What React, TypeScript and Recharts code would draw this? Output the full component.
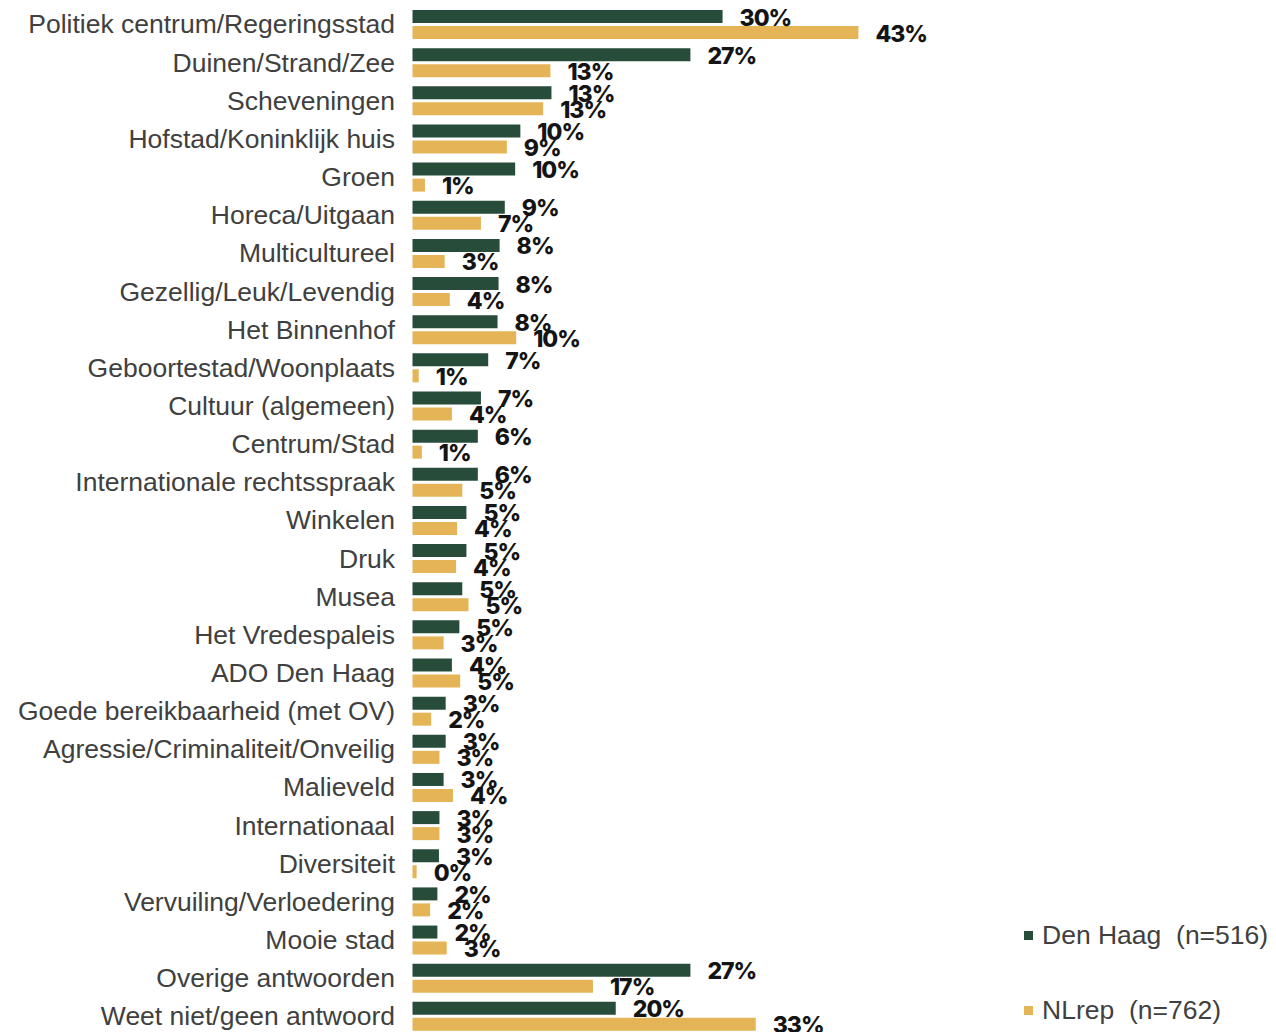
import { BarChart, Bar, XAxis, YAxis, Legend, LabelList } from 'recharts'

// categories, top to bottom
const categories = [
  'Politiek centrum/Regeringsstad',
  'Duinen/Strand/Zee',
  'Scheveningen',
  'Hofstad/Koninklijk huis',
  'Groen',
  'Horeca/Uitgaan',
  'Multicultureel',
  'Gezellig/Leuk/Levendig',
  'Het Binnenhof',
  'Geboortestad/Woonplaats',
  'Cultuur (algemeen)',
  'Centrum/Stad',
  'Internationale rechtsspraak',
  'Winkelen',
  'Druk',
  'Musea',
  'Het Vredespaleis',
  'ADO Den Haag',
  'Goede bereikbaarheid (met OV)',
  'Agressie/Criminaliteit/Onveilig',
  'Malieveld',
  'Internationaal',
  'Diversiteit',
  'Vervuiling/Verloedering',
  'Mooie stad',
  'Overige antwoorden',
  'Weet niet/geen antwoord',
]

// percentages (bar lengths, labels are rounded)
const denHaag = [
  29.9, 26.8, 13.4, 10.4, 9.9, 8.9, 8.4, 8.3, 8.2, 7.3, 6.6, 6.3, 6.3, 5.2,
  5.2, 4.8, 4.52, 3.8, 3.2, 3.2, 3.0, 2.6, 2.55, 2.4, 2.4, 26.8, 19.6,
]
const nlRep = [
  43.0, 13.3, 12.6, 9.1, 1.2, 6.6, 3.1, 3.6, 10.0, 0.6, 3.8, 0.9, 4.8, 4.3,
  4.2, 5.4, 3.0, 4.6, 1.8, 2.6, 3.9, 2.6, 0.4, 1.7, 3.3, 17.4, 33.1,
]

const seriesNames = ['Den Haag  (n=516)', 'NLrep  (n=762)']

const GREEN = '#274d3a'
const GOLD = '#e5b456'
const TEXT = '#404040'

const data = categories.map((name, i) => ({
  name,
  denHaag: denHaag[i],
  nlRep: nlRep[i],
}))

function ValueLabel(props: any) {
  const vb = props.viewBox ?? props
  const x = Number(props.x ?? vb.x)
  const y = Number(props.y ?? vb.y)
  const w = Number(props.width ?? vb.width)
  const h = Number(props.height ?? vb.height)
  return (
    <text
      x={x + w + 17}
      y={y + h / 2 + 9}
      fontFamily="Inter, sans-serif"
      fontWeight={800}
      fontSize={23}
      letterSpacing={-1}
      fill="#141414"
    >
      {Math.round(props.value)}%
    </text>
  )
}

function LegendBox(props: any) {
  const items = props.payload ?? []
  return (
    <div style={{ fontFamily: '"Liberation Sans", Arial, sans-serif', fontSize: 26.5, color: TEXT }}>
      {items.map((it: any, i: number) => (
        <div
          key={i}
          style={{ position: 'relative', height: 26, lineHeight: '26px', marginBottom: i === 0 ? 49 : 0, whiteSpace: 'pre' }}
        >
          <span
            style={{ position: 'absolute', left: 0, top: 9, width: 9, height: 9, background: it.color }}
          />
          <span style={{ position: 'absolute', left: 18, top: 0 }}>{it.value}</span>
        </div>
      ))}
    </div>
  )
}

export default function App() {
  return (
    <div style={{ position: 'fixed', top: 0, left: 0, width: 1276, height: 1032, overflow: 'hidden', background: '#fff' }}>
      <BarChart
        width={1276}
        height={1036}
        data={data}
        layout="vertical"
        margin={{ top: 5, right: 345, bottom: 1, left: 0 }}
        barSize={13}
        barGap={3}
      >
        <XAxis type="number" domain={[0, 50]} hide />
        <YAxis
          type="category"
          dataKey="name"
          width={412.5}
          interval={0}
          axisLine={false}
          tickLine={false}
          tickMargin={11.5}
          tick={{ fill: TEXT, fontSize: 26.5, fontFamily: '"Liberation Sans", Arial, sans-serif' }}
        />
        <Legend
          layout="horizontal"
          verticalAlign="middle"
          align="center"
          content={<LegendBox />}
          wrapperStyle={{ left: 1024, top: 922, width: 252, height: 110 }}
        />
        <Bar dataKey="denHaag" name={seriesNames[0]} fill={GREEN} isAnimationActive={false}>
          <LabelList dataKey="denHaag" content={<ValueLabel />} />
        </Bar>
        <Bar dataKey="nlRep" name={seriesNames[1]} fill={GOLD} isAnimationActive={false}>
          <LabelList dataKey="nlRep" content={<ValueLabel />} />
        </Bar>
      </BarChart>
    </div>
  )
}
